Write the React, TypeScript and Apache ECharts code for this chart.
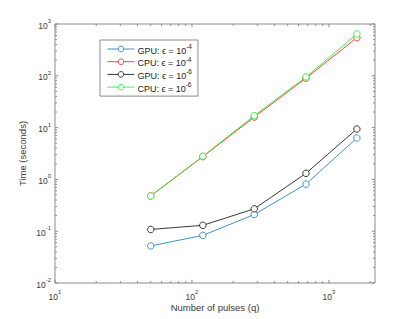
import React, { useEffect, useRef } from "react";
import * as echarts from "echarts";

const pulses = [50, 120, 285, 680, 1600];
const gpuE4 = [0.052, 0.083, 0.21, 0.81, 6.3];
const cpuE4 = [0.48, 2.75, 16, 90, 545];
const gpuE6 = [0.108, 0.13, 0.27, 1.31, 9.4];
const cpuE6 = [0.48, 2.8, 17, 95, 640];

const seriesNames = ["GPU: ϵ = 10^-4", "CPU: ϵ = 10^-4", "GPU: ϵ = 10^-6", "CPU: ϵ = 10^-6"];
const seriesColors = ["#2a86cc", "#ff2a2a", "#222222", "#2ef02e"];

const xMinVal = 10;
const xMaxVal = 2170;
const yMinExp = -2;
const yMaxExp = 3;
const xMajorTicks = [10, 100, 1000];
const xMinorTicks = [20, 30, 40, 50, 60, 70, 80, 90, 200, 300, 400, 500, 600, 700, 800, 900, 2000];
const yMajorExps = [-2, -1, 0, 1, 2, 3];
const yMinorMult = [2, 3, 4, 5, 6, 7, 8, 9];

const AXIS = "#8c8c8c";
const LABEL = "#3a3a3a";
const FONT = "'Liberation Sans', Arial, Helvetica, sans-serif";

const lg = (v: number) => Math.log10(v);

export default function App() {
  const ref = useRef<HTMLDivElement>(null);
  useEffect(() => {
    if (!ref.current) return;
    const chart = echarts.init(ref.current, undefined, { renderer: "svg" });
    const xLo = lg(xMinVal);
    const xHi = lg(xMaxVal);

    const xTickData: number[][] = [
      ...xMajorTicks.map((v) => [lg(v), 3.2]),
      ...xMinorTicks.map((v) => [lg(v), 2]),
    ];
    const yTickData: number[][] = [];
    yMajorExps.forEach((e) => {
      yTickData.push([xLo, e, 3.2]);
      if (e < yMaxExp) yMinorMult.forEach((m) => yTickData.push([xLo, e + lg(m), 2]));
    });

    const valueSets = [gpuE4, cpuE4, gpuE6, cpuE6];
    const lineSeries = valueSets.map((vals, i) => ({
      type: "line",
      name: seriesNames[i],
      data: pulses.map((q, j) => [lg(q), lg(vals[j])]),
      symbol: "circle",
      symbolSize: 6.5,
      color: seriesColors[i],
      lineStyle: { color: seriesColors[i], width: 0.9 },
      itemStyle: { color: "#ffffff", borderColor: seriesColors[i], borderWidth: 0.9 },
      emphasis: { disabled: true },
      z: 3 + i,
    }));

    const supFmt = (v: number) => `{b|10}{s|${v}}`;
    const tickRich = {
      b: { fontSize: 8.5, lineHeight: 12, verticalAlign: "bottom", color: LABEL, fontFamily: FONT },
      s: { fontSize: 6, lineHeight: 6, verticalAlign: "top", color: LABEL, fontFamily: FONT },
    };

    chart.setOption({
      animation: false,
      textStyle: { fontFamily: FONT },
      grid: {
        left: 55,
        right: 40,
        top: 24,
        bottom: 36,
        show: true,
        borderColor: AXIS,
        borderWidth: 1,
        backgroundColor: "#fff",
      },
      legend: {
        orient: "vertical",
        left: 100,
        top: 40,
        data: seriesNames,
        backgroundColor: "#fff",
        borderColor: AXIS,
        borderWidth: 1,
        padding: [3, 6, 3, 7],
        itemGap: 0.7,
        itemWidth: 27,
        itemHeight: 7,
        lineStyle: { width: 0.9 },
        itemStyle: { borderWidth: 0.9 },
        formatter: (name: string) => {
          const [pre, exp] = name.split("^");
          return `{t|${pre}}{s|${exp}}`;
        },
        textStyle: {
          fontFamily: FONT,
          color: "#222",
          padding: [0, 0, 0, -2],
          rich: {
            t: { fontSize: 9, lineHeight: 12, verticalAlign: "bottom", color: "#222", fontFamily: FONT },
            s: { fontSize: 6.5, lineHeight: 7, verticalAlign: "top", color: "#222", fontFamily: FONT },
          },
        },
      },
      xAxis: {
        type: "value",
        min: xLo,
        max: xHi,
        interval: 1,
        name: "Number of pulses (q)",
        nameLocation: "middle",
        nameGap: 19,
        nameMoveOverlap: false,
        nameTextStyle: { fontSize: 9.5, color: LABEL, fontFamily: FONT },
        axisLine: { show: false },
        axisTick: { show: false },
        splitLine: { show: false },
        axisLabel: {
          margin: 6,
          formatter: (v: number) => (Math.abs(v - Math.round(v)) < 1e-9 ? supFmt(Math.round(v)) : ""),
          rich: tickRich,
        },
      },
      yAxis: {
        type: "value",
        min: yMinExp,
        max: yMaxExp,
        interval: 1,
        name: "Time (seconds)",
        nameLocation: "middle",
        nameGap: 28,
        nameMoveOverlap: false,
        nameTextStyle: { fontSize: 9.5, color: LABEL, fontFamily: FONT },
        axisLine: { show: false },
        axisTick: { show: false },
        splitLine: { show: false },
        axisLabel: {
          margin: 4,
          formatter: (v: number) => supFmt(Math.round(v)),
          rich: tickRich,
        },
      },
      series: [
        {
          type: "custom",
          silent: true,
          z: 1,
          data: xTickData,
          encode: { x: 0 },
          renderItem: (_p: any, api: any) => {
            const v = api.value(0);
            const len = api.value(1);
            const b = api.coord([v, yMinExp]);
            const t = api.coord([v, yMaxExp]);
            return {
              type: "group",
              children: [
                { type: "line", shape: { x1: b[0], y1: b[1], x2: b[0], y2: b[1] - len }, style: { stroke: AXIS, lineWidth: 1 } },
                { type: "line", shape: { x1: t[0], y1: t[1], x2: t[0], y2: t[1] + len }, style: { stroke: AXIS, lineWidth: 1 } },
              ],
            };
          },
        },
        {
          type: "custom",
          silent: true,
          z: 1,
          data: yTickData,
          encode: { x: 0, y: 1 },
          renderItem: (_p: any, api: any) => {
            const v = api.value(1);
            const len = api.value(2);
            const l = api.coord([xLo, v]);
            const r = api.coord([xHi, v]);
            return {
              type: "group",
              children: [
                { type: "line", shape: { x1: l[0], y1: l[1], x2: l[0] + len, y2: l[1] }, style: { stroke: AXIS, lineWidth: 1 } },
                { type: "line", shape: { x1: r[0], y1: r[1], x2: r[0] - len, y2: r[1] }, style: { stroke: AXIS, lineWidth: 1 } },
              ],
            };
          },
        },
        ...lineSeries,
      ],
    } as any);
    return () => chart.dispose();
  }, []);
  return (
    <div
      ref={ref}
      style={{ position: "absolute", left: 0, top: 0, width: 415, height: 319, background: "#fff" }}
    />
  );
}
